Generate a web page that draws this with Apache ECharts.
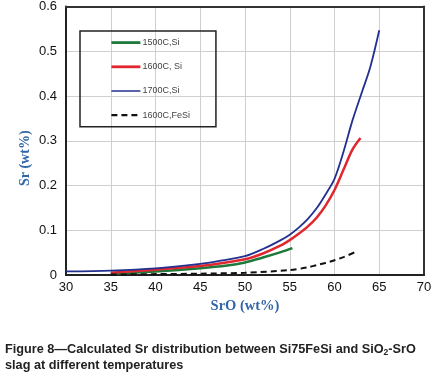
<!DOCTYPE html>
<html>
<head>
<meta charset="utf-8">
<script src="https://cdn.jsdelivr.net/npm/echarts@6/dist/echarts.min.js"></script>
<style>
  html, body { margin: 0; padding: 0; background: #fff; }
  #chart { width: 437px; height: 382px; }
</style>
</head>
<body>
<div id="chart"></div>
<script>
// values, [SrO wt%, Sr wt%]
var si1500 = [[35, 0.003], [40, 0.008], [45, 0.015], [48, 0.021], [50, 0.028], [52, 0.039], [54, 0.051], [55.3, 0.060]];
var si1600 = [[35, 0.005], [40, 0.012], [45, 0.020], [50, 0.035], [52, 0.048], [54, 0.066], [55, 0.078], [56, 0.092],
  [57, 0.108], [58, 0.128], [59, 0.155], [60, 0.190], [61, 0.235], [62, 0.280], [62.9, 0.306]];
var si1700 = [[30, 0.008], [35, 0.010], [40, 0.015], [45, 0.025], [47, 0.031], [50, 0.042], [52, 0.058], [54, 0.078],
  [55, 0.090], [56, 0.106], [57, 0.125], [58, 0.149], [59, 0.180], [60, 0.215], [61, 0.275], [62, 0.345],
  [63, 0.405], [64, 0.465], [65, 0.547]];
var feSi1600 = [[35, 0.001], [40, 0.002], [45, 0.003], [50, 0.005], [55, 0.011], [57, 0.017], [58, 0.022],
  [59, 0.027], [60, 0.033], [61, 0.040], [62.3, 0.051]];
var seriesNames = ['1500C,Si', '1600C, Si', '1700C,Si', '1600C,FeSi'];

var colors = ['#1d7a3a', '#e0262e', '#22308f', '#111'];
var widths = [2.5, 2.5, 1.8, 2];

var chart = echarts.init(document.getElementById('chart'));

function line(i, data, type) {
  return {
    name: seriesNames[i],
    type: 'line',
    data: data,
    smooth: 0.3,
    symbol: 'none',
    lineStyle: { color: colors[i], width: widths[i], type: type || 'solid' },
    itemStyle: { color: colors[i] }
  };
}

// plain axis used only to draw the dark frame on top/right
function frameAxis(pos, isX) {
  var a = {
    type: 'value',
    position: pos,
    axisLine: { show: true, onZero: false, lineStyle: { color: '#333', width: 2 } },
    axisTick: { show: false },
    axisLabel: { show: false },
    splitLine: { show: false }
  };
  if (isX) { a.min = 30; a.max = 70; } else { a.min = 0; a.max = 0.6; }
  return a;
}

chart.setOption({
  animation: false,
  title: {
    left: 0,
    top: 336,
    text: 'Figure 8\u2014Calculated Sr distribution between Si75FeSi and SiO{sub|2}-SrO\nslag at different temperatures',
    textStyle: {
      fontFamily: 'Liberation Sans',
      fontWeight: 'bold',
      fontSize: 12.7,
      color: '#222',
      lineHeight: 16,
      rich: {
        sub: { fontFamily: 'Liberation Sans', fontWeight: 'bold', fontSize: 8.5, color: '#222', verticalAlign: 'bottom', padding: [6, 0, 0, 0] }
      }
    }
  },
  legend: {
    orient: 'vertical',
    left: 80,
    top: 31,
    data: seriesNames.map(function (n, i) {
      return { name: n, lineStyle: { width: widths[i] + (i === 2 ? -0.3 : 0.3) } };
    }),
    itemWidth: 29,
    itemHeight: 14,
    itemGap: 13,
    padding: [6, 26, 6, 30],
    borderColor: '#222',
    borderWidth: 1.5,
    itemStyle: { opacity: 0 },
    textStyle: { fontFamily: 'Liberation Sans', fontSize: 9, color: '#444', padding: [0, 0, 0, -3] }
  },
  grid: {
    left: 66,
    right: 13,
    top: 6,
    bottom: 107
  },
  xAxis: [{
    type: 'value',
    min: 30,
    max: 70,
    interval: 5,
    name: 'SrO (wt%)',
    nameLocation: 'middle',
    nameGap: 23,
    nameTextStyle: { fontFamily: 'Liberation Serif', fontWeight: 'bold', fontSize: 14.5, color: '#3266a8' },
    axisLine: { lineStyle: { color: '#222', width: 2 } },
    axisTick: { show: false },
    axisLabel: { fontFamily: 'Liberation Sans', fontSize: 13, color: '#111', margin: 6 },
    splitLine: { lineStyle: { color: '#cfcfcf', width: 1 } }
  }, frameAxis('top', true)],
  yAxis: [{
    type: 'value',
    min: 0,
    max: 0.6,
    interval: 0.1,
    name: 'Sr (wt%)',
    nameLocation: 'middle',
    nameGap: 34,
    nameMoveOverlap: false,
    nameTextStyle: { fontFamily: 'Liberation Serif', fontWeight: 'bold', fontSize: 14, color: '#3266a8', padding: [0, 35, 0, 0] },
    axisLine: { show: true, lineStyle: { color: '#222', width: 2 } },
    axisTick: { show: false },
    axisLabel: {
      fontFamily: 'Liberation Sans', fontSize: 13, color: '#111', margin: 9,
      formatter: function (v) { return v === 0 ? '0' : v.toFixed(1); }
    },
    splitLine: { lineStyle: { color: '#cfcfcf', width: 1 } }
  }, frameAxis('right', false)],
  series: [
    line(0, si1500),
    line(1, si1600),
    line(2, si1700),
    line(3, feSi1600, [6, 4])
  ]
});
</script>
</body>
</html>
